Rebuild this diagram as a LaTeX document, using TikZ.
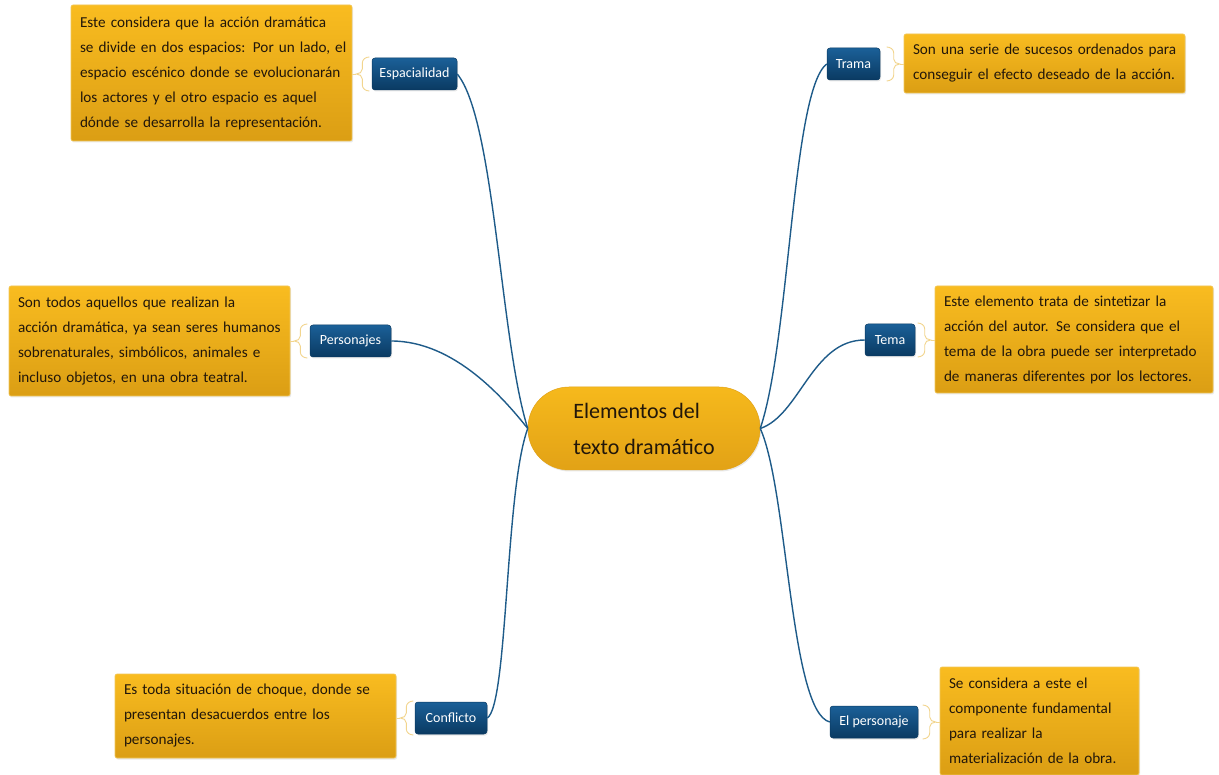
\documentclass[tikz,border=0pt]{standalone}
\usepackage{fontspec}
\setmainfont{Carlito}
\usetikzlibrary{shadows}
\definecolor{lnk}{HTML}{1E5B89}
\definecolor{labtop}{HTML}{1B6098}
\definecolor{labbot}{HTML}{0A3A62}
\definecolor{boxtop}{HTML}{F9BC20}
\definecolor{boxbot}{HTML}{DB9E14}
\definecolor{boxedge}{HTML}{F1C75A}
\definecolor{brc}{HTML}{F2D58E}
\definecolor{ctop}{HTML}{F6B91C}
\definecolor{cbot}{HTML}{E2A216}
\definecolor{txt}{HTML}{22170A}
\newcommand{\mln}[1]{\mbox{#1}}
\tikzset{
  tbox/.style={rectangle, rounded corners=2pt, top color=boxtop, bottom color=boxbot,
    draw=boxedge, line width=0.6pt, inner sep=0pt, align=left, text=txt,
    font=\fontsize{15.2}{25}\selectfont,
    drop shadow={opacity=0.18, shadow xshift=1pt, shadow yshift=-1.5pt}},
  lab/.style={rectangle, rounded corners=3pt, top color=labtop, bottom color=labbot,
    draw=labbot, line width=0.5pt, inner sep=0pt, minimum height=32pt, text=white,
    font=\fontsize{14}{16}\selectfont,
    drop shadow={opacity=0.18, shadow xshift=1pt, shadow yshift=-1.5pt}},
  ctr/.style={rectangle, rounded corners=41pt, top color=ctop, bottom color=cbot,
    draw=cbot, line width=0.5pt, minimum width=232pt, minimum height=83pt, inner sep=0pt,
    align=left, text=txt, font=\fontsize{22}{36}\selectfont,
    drop shadow={opacity=0.18, shadow xshift=1pt, shadow yshift=-1.5pt}},
  link/.style={draw=lnk, line width=1.4pt},
  bracel/.pic={\draw[brc, line width=0.9pt] (7,17) to[out=180,in=90] (0,11) -- (0,5)
      to[out=-90,in=0] (-6,0) to[out=0,in=90] (0,-5) -- (0,-11) to[out=-90,in=180] (7,-17);
      \draw[brc, line width=0.9pt] (-6,0) -- (-10,0);},
  bracer/.pic={\draw[brc, line width=0.9pt] (-7,17) to[out=0,in=90] (0,11) -- (0,5)
      to[out=-90,in=180] (6,0) to[out=180,in=90] (0,-5) -- (0,-11) to[out=-90,in=0] (-7,-17);
      \draw[brc, line width=0.9pt] (6,0) -- (10,0);}
}
\begin{document}
\begin{tikzpicture}[x=1pt,y=1pt]
\useasboundingbox[fill=white] (0,0) rectangle (1219,-775);

% center
\node[ctr] (c) at (644,-428.5) {Elementos del\\texto dramático};

% labels
\node[lab, minimum width=85pt] (esplab) at (414.5,-74) {Espacialidad};
\node[lab, minimum width=81pt] (perlab) at (350.5,-341) {Personajes};
\node[lab, minimum width=72pt] (conlab) at (451,-718) {Conflicto};
\node[lab, minimum width=53pt] (tralab) at (853.5,-64) {Trama};
\node[lab, minimum width=50pt] (temlab) at (890,-340) {Tema};
\node[lab, minimum width=88pt] (elplab) at (874,-722) {El personaje};

% text boxes
\node[tbox, minimum width=281pt, minimum height=136pt, text width=263pt] (espbox) at (211.5,-73)
  {\mln{Este considera que la acción dramática}\\\mln{se divide en dos espacios: Por un lado, el}\\\mln{espacio escénico donde se evolucionarán}\\\mln{los actores y el otro espacio es aquel}\\\mln{dónde se desarrolla la representación.}};
\node[tbox, minimum width=281pt, minimum height=110pt, text width=263pt] (perbox) at (149.5,-341)
  {\mln{Son todos aquellos que realizan la}\\\mln{acción dramática, ya sean seres humanos}\\\mln{sobrenaturales, simbólicos, animales e}\\\mln{incluso objetos, en una obra teatral.}};
\node[tbox, minimum width=281pt, minimum height=84pt, text width=263pt] (conbox) at (255.5,-716)
  {\mln{Es toda situación de choque, donde se}\\\mln{presentan desacuerdos entre los}\\\mln{personajes.}};
\node[tbox, minimum width=281pt, minimum height=59pt, text width=263pt] (trabox) at (1044.5,-63.5)
  {\mln{Son una serie de sucesos ordenados para}\\\mln{conseguir el efecto deseado de la acción.}};
\node[tbox, minimum width=278pt, minimum height=107pt, text width=260pt] (tembox) at (1074,-339.5)
  {\mln{Este elemento trata de sintetizar la}\\\mln{acción del autor. Se considera que el}\\\mln{tema de la obra puede ser interpretado}\\\mln{de maneras diferentes por los lectores.}};
\node[tbox, minimum width=199pt, minimum height=108pt, text width=181pt] (elpbox) at (1039.5,-721)
  {\mln{Se considera a este el}\\\mln{componente fundamental}\\\mln{para realizar la}\\\mln{materialización de la obra.}};

% braces
\path ([xshift=10pt]espbox.east |- esplab.center) pic {bracel};
\path ([xshift=10pt]perbox.east |- perlab.center) pic {bracel};
\path ([xshift=10pt]conbox.east |- conlab.center) pic {bracel};
\path ([xshift=-10pt]trabox.west |- tralab.center) pic {bracer};
\path ([xshift=-10pt]tembox.west |- temlab.center) pic {bracer};
\path ([xshift=-10pt]elpbox.west |- elplab.center) pic {bracer};

% links
\draw[link] (c.west) .. controls (500,-340) and (495,-120) .. (esplab.east);
\draw[link] (c.west) .. controls (505,-400) and (455,-341) .. (perlab.east);
\draw[link] (c.west) .. controls (505,-490) and (508,-705) .. (conlab.east);
\draw[link] (c.east) .. controls (790,-340) and (792,-90) .. (tralab.west);
\draw[link] (c.east) .. controls (800,-415) and (812,-340) .. (temlab.west);
\draw[link] (c.east) .. controls (788,-490) and (790,-712) .. (elplab.west);
\end{tikzpicture}
\end{document}
